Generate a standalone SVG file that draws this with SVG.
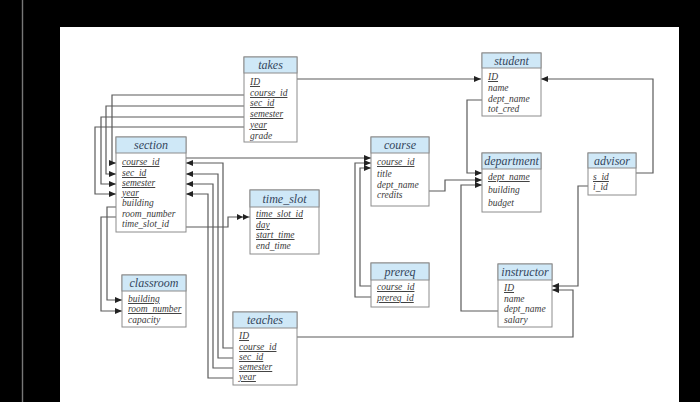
<svg xmlns="http://www.w3.org/2000/svg" width="700" height="402" viewBox="0 0 700 402">
<style>
.box{fill:#fff;stroke:#8c8c8c;stroke-width:1}
.hd{fill:#cfe8f7;stroke:#8c8c8c;stroke-width:1}
.t{font-family:"Liberation Serif",serif;font-style:italic;font-size:12px;fill:#34465c;text-anchor:middle}
.a{font-family:"Liberation Serif",serif;font-style:italic;font-size:9.5px;fill:#3a3a3a}
.u{text-decoration:underline}
.c{fill:none;stroke:#5a5a5a;stroke-width:1.2}
</style>
<defs>
<marker id="ar" markerUnits="userSpaceOnUse" markerWidth="8" markerHeight="8" refX="7" refY="4" orient="auto">
<path d="M0,1 L7,4 L0,7 Z" fill="#222"/>
</marker>
<marker id="ar2" markerUnits="userSpaceOnUse" markerWidth="14" markerHeight="8" refX="13" refY="4" orient="auto">
<path d="M0,1 L6,4 L0,7 Z M6,1 L12,4 L6,7 Z" fill="#222"/>
</marker>
</defs>
<rect x="0" y="0" width="700" height="402" fill="#000"/>
<rect x="21.8" y="0" width="1.4" height="402" fill="#777"/>
<rect x="60" y="27" width="619" height="375" fill="#fff"/>

<g id="connectors">
<path class="c" d="M297,79 H481" marker-end="url(#ar)"/>
<path class="c" d="M244,95 H112 V163 H116" marker-end="url(#ar)"/>
<path class="c" d="M244,106 H106 V174 H116" marker-end="url(#ar)"/>
<path class="c" d="M244,117 H101 V184 H116" marker-end="url(#ar)"/>
<path class="c" d="M244,127 H95 V194 H116" marker-end="url(#ar)"/>
<path class="c" d="M186,158 H371" marker-end="url(#ar)"/>
<path class="c" d="M233,348 H223 V163 H186" marker-end="url(#ar)"/>
<path class="c" d="M233,358 H218 V174 H186" marker-end="url(#ar)"/>
<path class="c" d="M233,368 H213 V184 H186" marker-end="url(#ar)"/>
<path class="c" d="M233,378 H208 V194 H186" marker-end="url(#ar)"/>
<path class="c" d="M186,227 H228 V217 H250" marker-end="url(#ar2)"/>
<path class="c" d="M116,207 H107 V300 H122" marker-end="url(#ar)"/>
<path class="c" d="M116,217 H101 V311 H122" marker-end="url(#ar)"/>
<path class="c" d="M371,286 H360 V168 H371" marker-end="url(#ar)"/>
<path class="c" d="M371,297 H355 V163 H371" marker-end="url(#ar)"/>
<path class="c" d="M429,191 H445 V180 H482" marker-end="url(#ar)"/>
<path class="c" d="M482,100 H467 V173 H482" marker-end="url(#ar)"/>
<path class="c" d="M498,311 H461 V185 H482" marker-end="url(#ar)"/>
<path class="c" d="M636,173 H653 V79 H541" marker-end="url(#ar)"/>
<path class="c" d="M588,186 H578 V286 H552" marker-end="url(#ar)"/>
<path class="c" d="M297,337 H573 V290 H552" marker-end="url(#ar)"/>
</g>

<g id="takes">
<rect class="box" x="244" y="57" width="53" height="85"/>
<rect class="hd" x="244" y="57" width="53" height="16"/>
<text class="t" x="270.5" y="69">takes</text>
<text class="a u" x="250" y="85">ID</text>
<text class="a u" x="250" y="96">course_id</text>
<text class="a u" x="250" y="106">sec_id</text>
<text class="a u" x="250" y="117">semester</text>
<text class="a u" x="250" y="128">year</text>
<text class="a" x="250" y="139">grade</text>
</g>

<g id="student">
<rect class="box" x="482" y="53" width="59" height="63"/>
<rect class="hd" x="482" y="53" width="59" height="15"/>
<text class="t" x="511.5" y="65">student</text>
<text class="a u" x="488" y="80">ID</text>
<text class="a" x="488" y="91">name</text>
<text class="a" x="488" y="102">dept_name</text>
<text class="a" x="488" y="112">tot_cred</text>
</g>

<g id="section">
<rect class="box" x="116" y="137" width="70" height="95"/>
<rect class="hd" x="116" y="137" width="70" height="16"/>
<text class="t" x="151" y="149">section</text>
<text class="a u" x="122" y="165">course_id</text>
<text class="a u" x="122" y="176">sec_id</text>
<text class="a u" x="122" y="186">semester</text>
<text class="a u" x="122" y="196">year</text>
<text class="a" x="122" y="206">building</text>
<text class="a" x="122" y="217">room_number</text>
<text class="a" x="122" y="227">time_slot_id</text>
</g>

<g id="course">
<rect class="box" x="371" y="137" width="58" height="69"/>
<rect class="hd" x="371" y="137" width="58" height="16"/>
<text class="t" x="400" y="149">course</text>
<text class="a u" x="377" y="165">course_id</text>
<text class="a" x="377" y="177">title</text>
<text class="a" x="377" y="188">dept_name</text>
<text class="a" x="377" y="198">credits</text>
</g>

<g id="department">
<rect class="box" x="482" y="153" width="59" height="59"/>
<rect class="hd" x="482" y="153" width="59" height="16"/>
<text class="t" x="511.5" y="165">department</text>
<text class="a u" x="488" y="180">dept_name</text>
<text class="a" x="488" y="193">building</text>
<text class="a" x="488" y="206">budget</text>
</g>

<g id="advisor">
<rect class="box" x="588" y="153" width="48" height="42"/>
<rect class="hd" x="588" y="153" width="48" height="15"/>
<text class="t" x="612" y="165">advisor</text>
<text class="a u" x="593" y="180">s_id</text>
<text class="a" x="593" y="190">i_id</text>
</g>

<g id="time_slot">
<rect class="box" x="250" y="190" width="69" height="64"/>
<rect class="hd" x="250" y="190" width="69" height="17"/>
<text class="t" x="284.5" y="203">time_slot</text>
<text class="a u" x="256" y="217">time_slot_id</text>
<text class="a u" x="256" y="228">day</text>
<text class="a u" x="256" y="238">start_time</text>
<text class="a" x="256" y="249">end_time</text>
</g>

<g id="classroom">
<rect class="box" x="122" y="275" width="64" height="52"/>
<rect class="hd" x="122" y="275" width="64" height="16"/>
<text class="t" x="154" y="287">classroom</text>
<text class="a u" x="128" y="302">building</text>
<text class="a u" x="128" y="312">room_number</text>
<text class="a" x="128" y="323">capacity</text>
</g>

<g id="prereq">
<rect class="box" x="371" y="263" width="58" height="44"/>
<rect class="hd" x="371" y="263" width="58" height="17"/>
<text class="t" x="400" y="276">prereq</text>
<text class="a u" x="377" y="290">course_id</text>
<text class="a u" x="377" y="301">prereq_id</text>
</g>

<g id="instructor">
<rect class="box" x="498" y="264" width="54" height="63"/>
<rect class="hd" x="498" y="264" width="54" height="16"/>
<text class="t" x="525" y="276">instructor</text>
<text class="a u" x="504" y="291">ID</text>
<text class="a" x="504" y="302">name</text>
<text class="a" x="504" y="312">dept_name</text>
<text class="a" x="504" y="323">salary</text>
</g>

<g id="teaches">
<rect class="box" x="233" y="312" width="64" height="73"/>
<rect class="hd" x="233" y="312" width="64" height="16"/>
<text class="t" x="265" y="324">teaches</text>
<text class="a u" x="239" y="339">ID</text>
<text class="a u" x="239" y="350">course_id</text>
<text class="a u" x="239" y="360">sec_id</text>
<text class="a u" x="239" y="370">semester</text>
<text class="a u" x="239" y="380">year</text>
</g>
</svg>
